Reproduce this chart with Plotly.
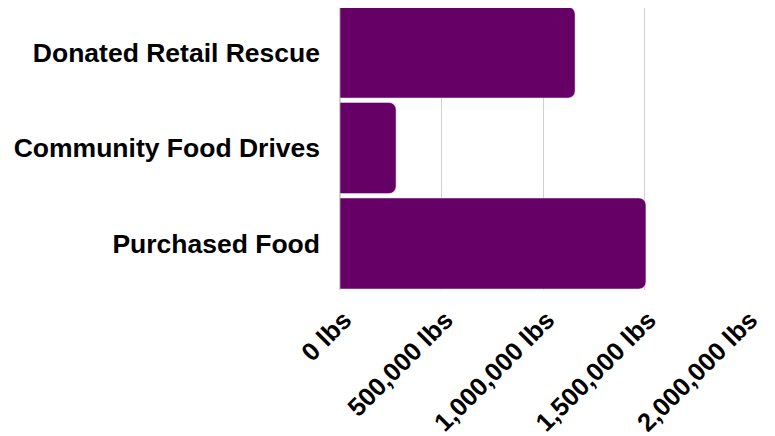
import plotly.graph_objects as go

categories = ["Donated Retail Rescue", "Community Food Drives", "Purchased Food"]
values = [1158000, 276000, 1507000]
tick_values = [0, 500000, 1000000, 1500000, 2000000]
tick_labels = [f"{v:,} lbs" for v in tick_values]

fig = go.Figure(go.Bar(
    x=values,
    y=categories,
    orientation="h",
    marker=dict(color="#660066", cornerradius=7),
    width=0.953,
))

font_family = "Liberation Sans, Arial, sans-serif"

fig.update_layout(
    width=775,
    height=436,
    margin=dict(l=332, r=37, t=0, b=154, autoexpand=False),
    plot_bgcolor="white",
    paper_bgcolor="white",
    showlegend=False,
)
fig.update_xaxes(
    range=[0, 2000000],
    tickvals=tick_values,
    ticktext=tick_labels,
    tickangle=-45,
    tickfont=dict(family=font_family, size=25.5, color="black", weight="bold"),
    ticklabelstandoff=9,
    ticklabelshift=4,
    showgrid=True,
    gridcolor="#d0d0d0",
    gridwidth=1,
    zeroline=True,
    zerolinecolor="#d0d0d0",
    showline=False,
    ticks="",
    automargin=False,
)
fig.update_yaxes(
    range=[2.487, -0.466],
    tickfont=dict(family=font_family, size=26.5, color="black", weight="bold"),
    ticklabelstandoff=19,
    showgrid=False,
    showline=False,
    ticks="",
    automargin=False,
)

fig.write_html("out.html")
